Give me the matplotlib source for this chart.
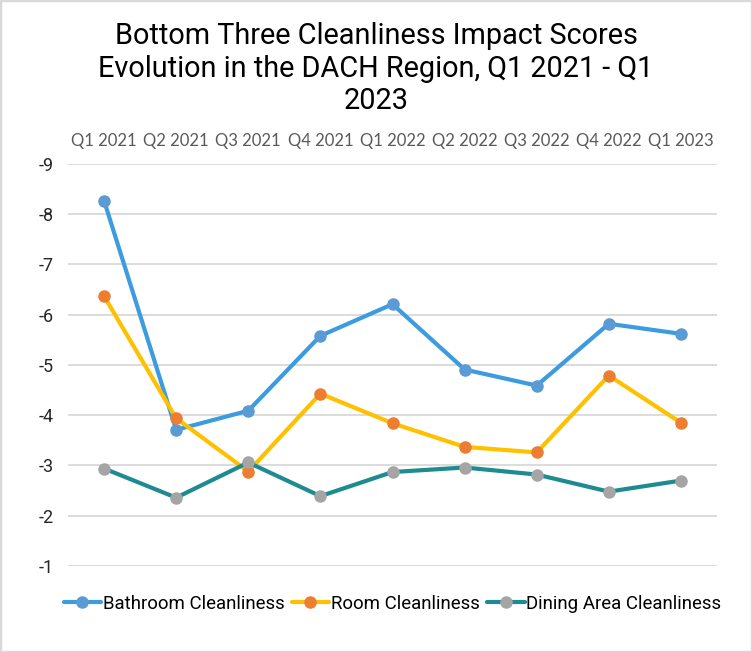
import matplotlib
matplotlib.use("Agg")
import matplotlib.pyplot as plt
from matplotlib.patches import Rectangle

quarters = ["Q1 2021", "Q2 2021", "Q3 2021", "Q4 2021", "Q1 2022",
            "Q2 2022", "Q3 2022", "Q4 2022", "Q1 2023"]
bathroom = [-8.27, -3.71, -4.09, -5.58, -6.21, -4.91, -4.59, -5.82, -5.62]
room = [-6.37, -3.94, -2.88, -4.43, -3.84, -3.37, -3.26, -4.79, -3.85]
dining = [-2.94, -2.36, -3.06, -2.39, -2.87, -2.96, -2.82, -2.48, -2.70]

series = [
    ("Bathroom Cleanliness", bathroom, "#3d9be0", "#5b9bd5"),
    ("Room Cleanliness", room, "#ffc000", "#ed7d31"),
    ("Dining Area Cleanliness", dining, "#1e8b91", "#a5a5a5"),
]

fig = plt.figure(figsize=(7.52, 6.52), dpi=100)
fig.patches.append(Rectangle((0, 0), 1, 1, transform=fig.transFigure,
                             fill=False, edgecolor="#d9d9d9", linewidth=2.5))
ax = fig.add_axes([0.0904, 0.1319, 0.8631, 0.6166])

x = list(range(len(quarters)))
handles = []
for name, vals, lc, mc in series:
    h, = ax.plot(x, vals, color=lc, linewidth=3, marker="o", markersize=8,
                 markerfacecolor=mc, markeredgecolor=mc, label=name,
                 solid_capstyle="round", zorder=3)
    handles.append(h)

ax.set_ylim(-1, -9)
ax.set_yticks(range(-9, 0))
ax.set_yticklabels([str(v) for v in range(-9, 0)], fontfamily="Roboto",
                   fontsize=13, color="#262626")
ax.set_xlim(-0.5, len(quarters) - 0.5)
ax.set_xticks(x)
ax.set_xticklabels(quarters, fontfamily="Lato", fontsize=12, color="#595959")
ax.xaxis.tick_top()
ax.tick_params(axis="both", length=0)
ax.tick_params(axis="x", pad=11)
ax.tick_params(axis="y", pad=10)
ax.grid(axis="y", color="#d9d9d9", linewidth=1.3)
ax.set_axisbelow(True)
for s in ax.spines.values():
    s.set_visible(False)

fig.text(0.5, 0.966, "Bottom Three Cleanliness Impact Scores\nEvolution in the DACH Region, Q1 2021 - Q1\n2023",
         ha="center", va="top", fontfamily="Roboto", fontsize=20.8,
         color="#000000", linespacing=1.2)

fig.legend(handles=handles, loc="center", bbox_to_anchor=(0.522, 0.074), ncol=3,
           frameon=False, prop={"family": "Roboto", "size": 13.4},
           handlelength=2.0, handletextpad=0.1, columnspacing=0.4)

fig.savefig("out.png", dpi=100)
